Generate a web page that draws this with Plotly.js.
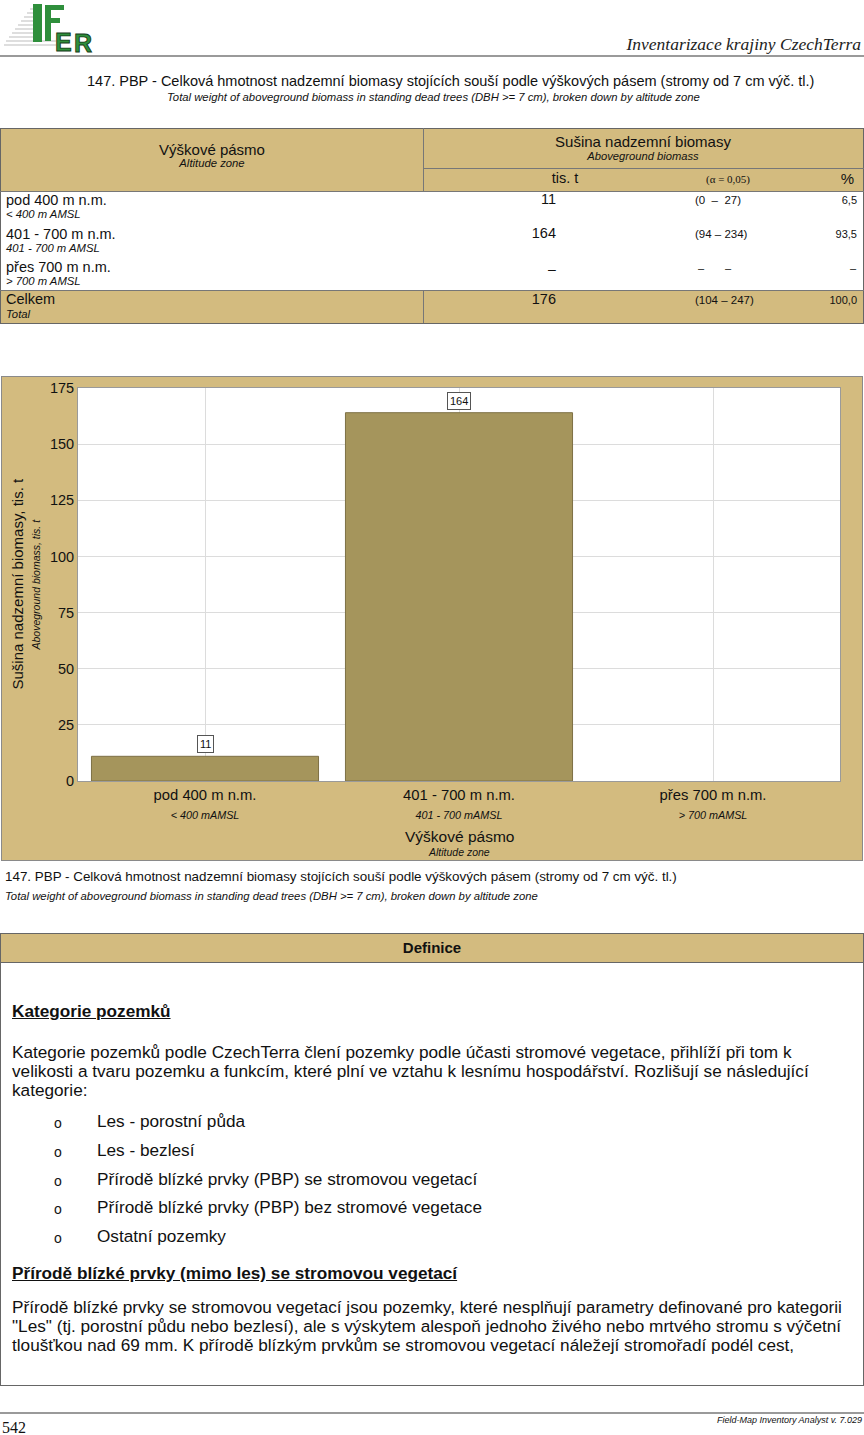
<!DOCTYPE html>
<html>
<head>
<meta charset="utf-8">
<script src="https://cdn.plot.ly/plotly-3.0.1.min.js"></script>
<style>
  html, body { margin:0; padding:0; background:#fff; }
  body { width:864px; height:1435px; position:relative; overflow:hidden; font-family:"Liberation Sans", Arial, sans-serif; color:#111; }
  .a { position:absolute; white-space:nowrap; }
  .box { position:absolute; box-sizing:border-box; }
  .tan { background:#d3bb7f; }
</style>
</head>
<body>
<script>
// ---------------- DATA ----------------
const zoneCz = ['pod 400 m n.m.', '401 - 700 m n.m.', 'přes 700 m n.m.'];
const zoneEn = ['< 400 m AMSL', '401 - 700 m AMSL', '> 700 m AMSL'];
const biomass = [11, 164, null];          // tis. t
const ciLow = [0, 94, null];
const ciHigh = [27, 234, null];
const pct = [6.5, 93.5, null];
const totalLabelCz = 'Celkem';
const totalLabelEn = 'Total';
const totalBiomass = 176;
const totalCiLow = 104;
const totalCiHigh = 247;
const totalPct = 100.0;
const chartCatCz = ['pod 400 m n.m.', '401 - 700 m n.m.', 'přes 700 m n.m.'];
const chartCatEn = ['< 400 mAMSL', '401 - 700 mAMSL', '> 700 mAMSL'];
const yTicks = [0, 25, 50, 75, 100, 125, 150, 175];
</script>

<!-- Header -->
<svg class="a" style="left:0px;top:0px" width="104" height="58" viewBox="0 0 104 58">
  <g stroke="#bdbdbd" stroke-width="1">
    <line x1="30" y1="9" x2="36" y2="9"/>
    <line x1="27" y1="13" x2="36" y2="13"/>
    <line x1="24" y1="17" x2="36" y2="17"/>
    <line x1="21" y1="21" x2="36" y2="21"/>
    <line x1="18" y1="25" x2="36" y2="25"/>
    <line x1="15" y1="29" x2="36" y2="29"/>
    <line x1="12" y1="33" x2="36" y2="33"/>
    <line x1="9" y1="37" x2="36" y2="37"/>
    <line x1="6" y1="41" x2="56" y2="41"/>
    <line x1="4" y1="45" x2="56" y2="45"/>
  </g>
  <rect x="33" y="4" width="9" height="38" fill="#2f8f3c"/>
  <rect x="45" y="5" width="6" height="36" fill="#2f8f3c"/>
  <rect x="45" y="5" width="19" height="5" fill="#2f8f3c"/>
  <rect x="45" y="18" width="15" height="5" fill="#2f8f3c"/>
  <text x="55" y="51" font-family="Liberation Sans" font-weight="bold" font-size="25" fill="#2f8f3c" stroke="#143c18" stroke-width="0.9">E</text>
  <text x="74" y="52" font-family="Liberation Sans" font-weight="bold" font-size="25" fill="#2f8f3c" stroke="#143c18" stroke-width="0.9">R</text>
</svg>
<div class="a" style="right:3px;top:34px;font-family:'Liberation Serif',serif;font-style:italic;font-size:17.5px;color:#222;">Inventarizace krajiny CzechTerra</div>
<div class="box" style="left:0;top:55px;width:864px;height:2px;background:#9a9a9a;"></div>

<div class="a" style="left:87px;top:74px;font-size:14.5px;line-height:15px;">147. PBP - Celková hmotnost nadzemní biomasy stojících souší podle výškových pásem (stromy od 7 cm výč. tl.)</div>
<div class="a" style="left:167px;top:91px;font-size:11.3px;line-height:12px;font-style:italic;">Total weight of aboveground biomass in standing dead trees (DBH &gt;= 7 cm), broken down by altitude zone</div>

<!-- Table -->
<div id="tbl"></div>

<!-- Chart -->
<div id="chart" class="box" style="left:2px;top:377px;width:860px;height:483px;outline:1px solid #8a8a8a;"></div>

<div class="a" style="left:5px;top:870px;font-size:13.4px;line-height:14px;">147. PBP - Celková hmotnost nadzemní biomasy stojících souší podle výškových pásem (stromy od 7 cm výč. tl.)</div>
<div class="a" style="left:5px;top:890px;font-size:11.3px;line-height:12px;font-style:italic;">Total weight of aboveground biomass in standing dead trees (DBH &gt;= 7 cm), broken down by altitude zone</div>

<!-- Definitions -->
<div class="box" style="left:0;top:933px;width:864px;height:453px;border:1px solid #666;"></div>
<div class="box tan" style="left:1px;top:934px;width:862px;height:29px;border-bottom:1px solid #666;"></div>
<div class="a" style="left:432px;top:940px;transform:translateX(-50%);font-size:15px;line-height:15px;font-weight:bold;">Definice</div>

<div class="a" style="left:12px;top:1002px;font-size:17.2px;line-height:18px;font-weight:bold;text-decoration:underline;">Kategorie pozemků</div>
<div class="a" style="left:12px;top:1043px;font-size:17.2px;line-height:19px;">Kategorie pozemků podle CzechTerra člení pozemky podle účasti stromové vegetace, přihlíží při tom k<br>velikosti a tvaru pozemku a funkcím, které plní ve vztahu k lesnímu hospodářství. Rozlišují se následující<br>kategorie:</div>
<div id="bullets"></div>
<div class="a" style="left:12px;top:1264px;font-size:17.2px;line-height:18px;font-weight:bold;text-decoration:underline;">Přírodě blízké prvky (mimo les) se stromovou vegetací</div>
<div class="a" style="left:12px;top:1298px;font-size:17.2px;line-height:19px;">Přírodě blízké prvky se stromovou vegetací jsou pozemky, které nesplňují parametry definované pro kategorii<br>"Les" (tj. porostní půdu nebo bezlesí), ale s výskytem alespoň jednoho živého nebo mrtvého stromu s výčetní<br>tloušťkou nad 69 mm. K přírodě blízkým prvkům se stromovou vegetací náležejí stromořadí podél cest,</div>

<!-- Footer -->
<div class="box" style="left:0;top:1412px;width:864px;height:2px;background:#9a9a9a;"></div>
<div class="a" style="left:2px;top:1420px;font-family:'Liberation Serif',serif;font-size:16px;line-height:16px;">542</div>
<div class="a" style="right:2px;top:1415px;font-size:9px;line-height:10px;font-style:italic;">Field-Map Inventory Analyst v. 7.029</div>

<script>
// ---------- helpers ----------
function txt(parent, s, x, y, size, opt) {
  opt = opt || {};
  const d = document.createElement('div');
  d.className = 'a';
  d.textContent = s;
  d.style.fontSize = size + 'px';
  d.style.lineHeight = size + 'px';
  d.style.top = (y - size * 0.52) + 'px';
  if (opt.italic) d.style.fontStyle = 'italic';
  if (opt.bold) d.style.fontWeight = 'bold';
  if (opt.serif) d.style.fontFamily = "'Liberation Serif', serif";
  if (opt.pre) d.style.whiteSpace = 'pre';
  if (opt.align === 'center') { d.style.left = x + 'px'; d.style.transform = 'translateX(-50%)'; }
  else if (opt.align === 'right') { d.style.right = (864 - x) + 'px'; }
  else { d.style.left = x + 'px'; }
  parent.appendChild(d);
  return d;
}
function rect(parent, x, y, w, h, css) {
  const d = document.createElement('div');
  d.className = 'box';
  d.style.left = x + 'px'; d.style.top = y + 'px';
  d.style.width = w + 'px'; d.style.height = h + 'px';
  Object.assign(d.style, css || {});
  parent.appendChild(d);
  return d;
}
function fmt1(v) { return v.toFixed(1).replace('.', ','); }

// ---------- table ----------
const T = document.getElementById('tbl');
const DASH = '–';
rect(T, 0, 128, 864, 64, { background: '#d3bb7f' });
rect(T, 0, 290, 864, 33, { background: '#d3bb7f' });
rect(T, 0, 128, 864, 196, { border: '1px solid #666' });
rect(T, 423, 128, 1, 64, { background: '#777' });
rect(T, 423, 290, 1, 33, { background: '#777' });
rect(T, 423, 168, 441, 1, { background: '#777' });
rect(T, 0, 191, 864, 1, { background: '#777' });
rect(T, 0, 290, 864, 1, { background: '#777' });

txt(T, 'Výškové pásmo', 212, 150, 15, { align: 'center' });
txt(T, 'Altitude zone', 212, 164, 11.3, { align: 'center', italic: true });
txt(T, 'Sušina nadzemní biomasy', 643, 142, 15, { align: 'center' });
txt(T, 'Aboveground biomass', 643, 157, 11.2, { align: 'center', italic: true });
txt(T, 'tis. t', 565, 179, 14.5, { align: 'center' });
txt(T, '(α = 0,05)', 728, 180, 11, { align: 'center', serif: true });
txt(T, '%', 854, 179, 15, { align: 'right' });

for (let i = 0; i < zoneCz.length; i++) {
  const yc = 201 + 33.5 * i;
  txt(T, zoneCz[i], 6, yc, 14.5);
  txt(T, zoneEn[i], 6, yc + 14, 11.3, { italic: true });
  if (biomass[i] !== null) {
    txt(T, String(biomass[i]), 556, yc - 1, 14.5, { align: 'right' });
    const ci = ciLow[i] === 0 ? '(' + ciLow[i] + '  –  ' + ciHigh[i] + ')' : '(' + ciLow[i] + ' – ' + ciHigh[i] + ')';
    txt(T, ci, 695, yc, 11.5, { pre: true });
    txt(T, fmt1(pct[i]), 857, yc, 11, { align: 'right' });
  } else {
    txt(T, DASH, 552, yc + 1, 14, { align: 'center' });
    txt(T, DASH, 701, yc + 1, 11, { align: 'center' });
    txt(T, DASH, 728, yc + 1, 11, { align: 'center' });
    txt(T, DASH, 856, yc + 1, 11, { align: 'right' });
  }
}
txt(T, totalLabelCz, 6, 300, 14.5);
txt(T, totalLabelEn, 6, 315, 11.3, { italic: true });
txt(T, String(totalBiomass), 556, 300, 14.5, { align: 'right' });
txt(T, '(' + totalCiLow + ' – ' + totalCiHigh + ')', 695, 301, 11.5);
txt(T, fmt1(totalPct), 857, 301, 11, { align: 'right' });

// ---------- bullets ----------
const B = document.getElementById('bullets');
const bulletItems = ['Les - porostní půda', 'Les - bezlesí', 'Přírodě blízké prvky (PBP) se stromovou vegetací', 'Přírodě blízké prvky (PBP) bez stromové vegetace', 'Ostatní pozemky'];
const bulletY = [1122, 1151, 1180, 1208, 1237];
bulletItems.forEach((s, i) => {
  txt(B, 'o', 54, bulletY[i] + 1, 14);
  txt(B, s, 97, bulletY[i], 17.2);
});

// ---------- chart ----------
const FONT = 'Liberation Sans, Arial, sans-serif';
const ticktext = chartCatCz.map((c, i) => c + '<br><i><span style="font-size:10.8px">' + chartCatEn[i].replace('<', '&lt;').replace('>', '&gt;') + '</span></i>');

const annotations = [];
biomass.forEach((v, i) => {
  if (v === null) return;
  annotations.push({
    x: chartCatCz[i], y: v, xref: 'x', yref: 'y',
    text: String(v), showarrow: false, yanchor: 'bottom', yshift: 3,
    font: { family: FONT, size: 11, color: '#111' },
    bgcolor: '#ffffff', bordercolor: '#555', borderwidth: 1, borderpad: 2
  });
});
annotations.push(
  { xref: 'paper', yref: 'paper', x: 0.5, y: 0, yanchor: 'middle', yshift: -55, showarrow: false,
    text: 'Výškové pásmo', font: { family: FONT, size: 15.5, color: '#111' } },
  { xref: 'paper', yref: 'paper', x: 0.5, y: 0, yanchor: 'middle', yshift: -71, showarrow: false,
    text: '<i>Altitude zone</i>', font: { family: FONT, size: 10.5, color: '#111' } },
  { xref: 'paper', yref: 'paper', x: 0, y: 0.5, xanchor: 'center', xshift: -61, textangle: -90, showarrow: false,
    text: 'Sušina nadzemní biomasy, tis. t', font: { family: FONT, size: 15, color: '#111' } },
  { xref: 'paper', yref: 'paper', x: 0, y: 0.5, xanchor: 'center', xshift: -43, textangle: -90, showarrow: false,
    text: '<i>Aboveground biomass, tis. t</i>', font: { family: FONT, size: 10.5, color: '#111' } }
);

const trace = {
  type: 'bar',
  x: chartCatCz,
  y: biomass,
  marker: { color: '#a5955c', line: { color: '#7d7045', width: 1 } },
  hoverinfo: 'none'
};

const layout = {
  width: 860, height: 483,
  margin: { l: 76, r: 22, t: 11, b: 79 },
  paper_bgcolor: '#d3bb7f',
  plot_bgcolor: '#ffffff',
  showlegend: false,
  bargap: 0.106,
  font: { family: FONT, size: 14, color: '#111' },
  xaxis: {
    type: 'category', range: [-0.5, 2.5],
    tickvals: chartCatCz, ticktext: ticktext,
    showgrid: true, gridcolor: '#dcdcdc', gridwidth: 1,
    showline: true, linecolor: '#9a9a9a', mirror: true,
    ticks: '', tickfont: { family: FONT, size: 14.8, color: '#111' },
    fixedrange: true
  },
  yaxis: {
    range: [0, 175], tickvals: yTicks,
    showgrid: true, gridcolor: '#dcdcdc', gridwidth: 1,
    showline: true, linecolor: '#9a9a9a', mirror: true,
    zeroline: false, ticks: '', ticklabelstandoff: 0,
    tickfont: { family: FONT, size: 14.5, color: '#111' },
    fixedrange: true
  },
  annotations: annotations
};

Plotly.newPlot('chart', [trace], layout, { displayModeBar: false, staticPlot: true });
</script>
</body>
</html>
